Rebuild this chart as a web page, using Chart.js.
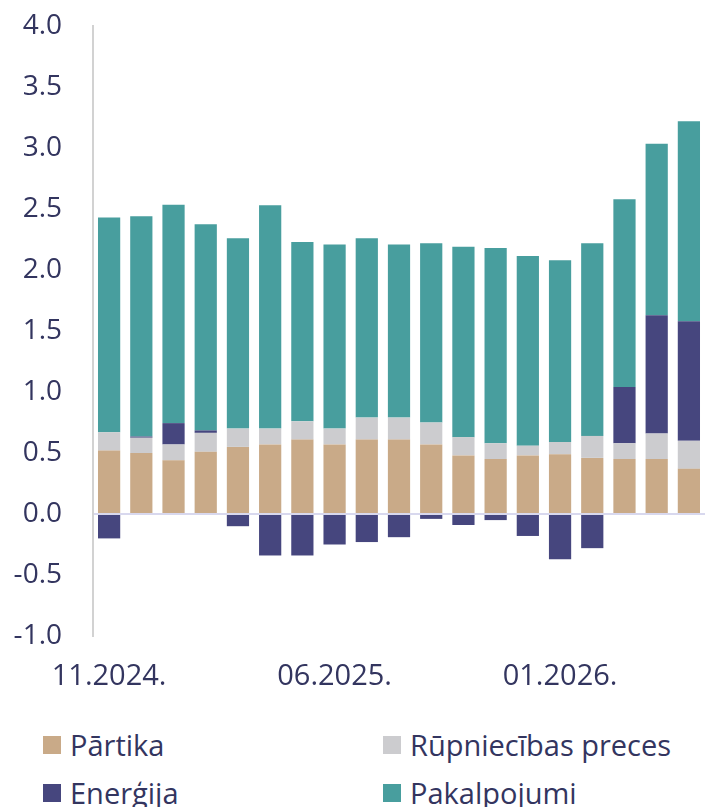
<!DOCTYPE html>
<html>
<head>
<meta charset="utf-8">
<script src="https://cdn.jsdelivr.net/npm/chart.js@4.4.1/dist/chart.umd.min.js"></script>
<style>
  body { margin: 0; background: #fff; font-family: 'Open Sans', sans-serif; }
  #wrap { position: absolute; left: 0; top: 0; width: 705px; height: 713px; }
  #legend { position: absolute; left: 0; top: 725px; width: 705px; }
  .leg-item { position: absolute; display: flex; align-items: center; font-size: 29px; color: #33355f; white-space: nowrap; }
  .leg-box { width: 18px; height: 18px; margin-right: 9px; }
</style>
</head>
<body>
<div id="wrap"><canvas id="chart"></canvas></div>
<div id="legend"></div>
<script>
const months = ['11.2024.', '12.2024.', '01.2025.', '02.2025.', '03.2025.', '04.2025.', '05.2025.',
  '06.2025.', '07.2025.', '08.2025.', '09.2025.', '10.2025.', '11.2025.', '12.2025.',
  '01.2026.', '02.2026.', '03.2026.', '04.2026.', '05.2026.']
const shownLabels = ['11.2024.', '06.2025.', '01.2026.']

const food = [0.52, 0.50, 0.44, 0.51, 0.55, 0.57, 0.61, 0.57, 0.61, 0.61, 0.57, 0.48, 0.45, 0.48, 0.49, 0.46, 0.45, 0.45, 0.37]
const goods = [0.15, 0.125, 0.13, 0.155, 0.15, 0.13, 0.15, 0.13, 0.18, 0.18, 0.18, 0.15, 0.13, 0.08, 0.10, 0.18, 0.13, 0.21, 0.23]
const energy = [-0.20, 0.01, 0.175, 0.02, -0.10, -0.34, -0.34, -0.25, -0.23, -0.19, -0.04, -0.09, -0.05, -0.18, -0.37, -0.28, 0.46, 0.97, 0.98]
const services = [1.76, 1.805, 1.79, 1.69, 1.56, 1.83, 1.47, 1.51, 1.47, 1.42, 1.47, 1.56, 1.60, 1.555, 1.49, 1.58, 1.54, 1.405, 1.64]

const yTicks = [-1, -0.5, 0, 0.5, 1, 1.5, 2, 2.5, 3, 3.5, 4]

const textColor = '#33355f'

const series = [
  { label: 'Pārtika', data: food, color: '#c9aa88' },
  { label: 'Rūpniecības preces', data: goods, color: '#cccccf' },
  { label: 'Enerģija', data: energy, color: '#46467e' },
  { label: 'Pakalpojumi', data: services, color: '#489e9e' },
]

new Chart(document.getElementById('chart'), {
  type: 'bar',
  data: {
    labels: months,
    datasets: series.map((s) => ({
      label: s.label,
      data: s.data,
      backgroundColor: s.color,
      borderWidth: 0,
      categoryPercentage: 1,
      barPercentage: 0.69,
    })),
  },
  options: {
    responsive: true,
    maintainAspectRatio: false,
    animation: false,
    layout: { padding: { top: 26, right: 0, left: 0, bottom: 0 } },
    plugins: { legend: { display: false }, tooltip: { enabled: false } },
    scales: {
      x: {
        stacked: true,
        grid: { display: false },
        border: { display: false },
        afterFit: (scale) => {
          scale.height = 77
          scale.paddingLeft = 0
          scale.paddingRight = 0
        },
        ticks: {
          autoSkip: false,
          maxRotation: 0,
          padding: 15,
          color: textColor,
          font: { family: 'Open Sans', size: 29 },
          callback: function (v) {
            const lbl = this.getLabelForValue(v)
            return shownLabels.includes(lbl) ? lbl : ''
          },
        },
      },
      y: {
        stacked: true,
        min: -1,
        max: 4,
        afterFit: (scale) => {
          scale.width = 93
          scale.paddingTop = 0
          scale.paddingBottom = 0
        },
        afterBuildTicks: (scale) => { scale.ticks = yTicks.map((v) => ({ value: v })) },
        border: { display: true, color: '#d2d2d2', width: 2 },
        grid: {
          drawTicks: false,
          lineWidth: 2,
          color: (ctx) => (ctx.tick && ctx.tick.value === 0 ? '#d8d8ee' : 'rgba(0,0,0,0)'),
        },
        ticks: {
          padding: 31,
          color: textColor,
          font: { family: 'Open Sans', size: 28 },
          callback: (v) => v.toFixed(1),
        },
      },
    },
  },
})

// legend in two columns, like the original
const legendEl = document.getElementById('legend')
const legPos = [[43, 0], [383, 0], [43, 48], [383, 48]]
legendEl.innerHTML = series.map((s, i) => `
  <div class="leg-item" style="left:${legPos[i][0]}px;top:${legPos[i][1]}px;">
    <div class="leg-box" style="background:${s.color};"></div>${s.label}
  </div>`).join('')
</script>
</body>
</html>
